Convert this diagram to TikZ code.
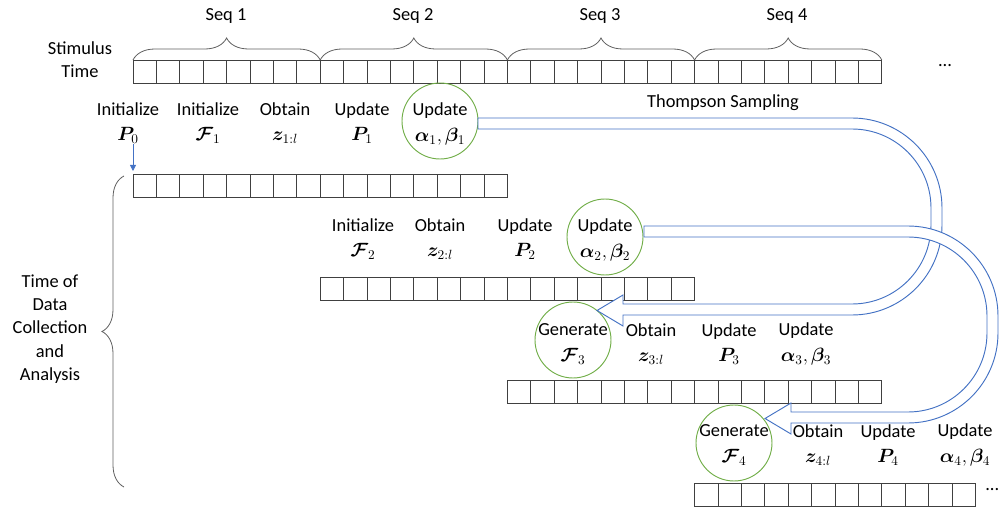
\documentclass[tikz,border=0pt]{standalone}
\usepackage{fontspec}
\setmainfont{Carlito}
\usepackage{bm}
\usetikzlibrary{decorations.pathreplacing,arrows.meta}

\definecolor{flowblue}{HTML}{4472C4}
\definecolor{stepgreen}{HTML}{70AD47}
\definecolor{cellgray}{HTML}{404040}
\definecolor{bracegray}{HTML}{606060}

\tikzset{
  lbl/.style={align=center, inner sep=0pt, font=\fontsize{13.8}{19}\selectfont},
  sidelbl/.style={align=center, inner sep=0pt, font=\fontsize{13.8}{17.5}\selectfont},
  stepcircle/.style={circle, draw=stepgreen, line width=0.7pt, minimum size=57pt,
    inner sep=0pt},
  cellbox/.style={draw=cellgray, line width=0.75pt, minimum width=17.55pt,
    minimum height=17.25pt, inner sep=0pt, outer sep=0pt, anchor=north west},
  seqbrace/.style={decorate, decoration={brace, amplitude=16.5pt},
    draw=bracegray, line width=0.6pt},
  hollowarrow/.style={draw=flowblue, line width=0.7pt, fill=white},
  smallarrow/.style={draw=flowblue, line width=0.6pt,
    -{Triangle[length=4.5pt,width=4.5pt]}, shorten >=3pt},
}

% a row of #4 time cells named #1-1 ... #1-#4, top left corner at (#2,#3)
\newcommand\cellrow[4]{%
  \foreach \k in {1,...,#4} {
    \node[cellbox] (#1-\k) at ({#2+(\k-1)*23.4}, #3) {};
  }%
}

\begin{document}
\begin{tikzpicture}[x=0.75pt,y=-0.75pt]
\useasboundingbox (0,0) rectangle (1001,510);

% stimulus time line and the four collection windows
\cellrow{s}{133}{61}{32}
\cellrow{ra}{133}{175}{16}
\cellrow{rb}{320.2}{277}{16}
\cellrow{rc}{507.4}{380}{16}
\cellrow{rd}{694.6}{483}{12}

% sequence braces
\draw[seqbrace] ([yshift=0.75pt]s-1.north west)  -- ([yshift=0.75pt]s-8.north east);
\draw[seqbrace] ([yshift=0.75pt]s-9.north west)  -- ([yshift=0.75pt]s-16.north east);
\draw[seqbrace] ([yshift=0.75pt]s-17.north west) -- ([yshift=0.75pt]s-24.north east);
\draw[seqbrace] ([yshift=0.75pt]s-25.north west) -- ([yshift=0.75pt]s-32.north east);
\node[lbl] (seq1) at (226,16) {Seq 1};
\node[lbl] (seq2) at (413,16) {Seq 2};
\node[lbl] (seq3) at (600,16) {Seq 3};
\node[lbl] (seq4) at (787,16) {Seq 4};

\node[sidelbl] (stim) at (80,60) {Stimulus\\Time};
\node[lbl] (more1) at (945,66) {...};
\node[lbl, anchor=west] (more2) at (985,490) {...};

% data collection brace
\coordinate (bbot) at (124,487);
\coordinate (btop) at (124,176);
\draw[seqbrace] (bbot) -- (btop);
\node[sidelbl] (dcol) at (50,329) {Time of\\Data\\Collection\\and\\Analysis};

% first window
\node[lbl] (init0) at (128,123) {Initialize\\$\bm{P}_0$};
\node[lbl] (initF1) at (208,123) {Initialize\\$\bm{\mathcal{F}}_1$};
\node[lbl] (obt1) at (285,123) {Obtain\\$\bm{z}_{1:l}$};
\node[lbl] (updP1) at (362,123) {Update\\$\bm{P}_1$};
\node[stepcircle] (ab1) at (440,121) {};
\node[lbl] (ab1t) at (440,124) {Update\\$\bm{\alpha}_1,\bm{\beta}_1$};
\node[lbl] (ts) at (723,103) {Thompson Sampling};
\draw[smallarrow] (init0.south -| ra-1.north west) -- (ra-1.north west);

% second window
\node[lbl] (initF2) at (363,239) {Initialize\\$\bm{\mathcal{F}}_2$};
\node[lbl] (obt2) at (440,239) {Obtain\\$\bm{z}_{2:l}$};
\node[lbl] (updP2) at (525,239) {Update\\$\bm{P}_2$};
\node[stepcircle] (ab2) at (605,237) {};
\node[lbl] (ab2t) at (605,240) {Update\\$\bm{\alpha}_2,\bm{\beta}_2$};

% third window
\node[stepcircle] (gen3) at (573,340) {};
\node[lbl] (gen3t) at (573,344) {Generate\\$\bm{\mathcal{F}}_3$};
\node[lbl] (obt3) at (651,344) {Obtain\\$\bm{z}_{3:l}$};
\node[lbl] (updP3) at (729,344) {Update\\$\bm{P}_3$};
\node[lbl] (upd3) at (806,344) {Update\\$\bm{\alpha}_3,\bm{\beta}_3$};

% fourth window
\node[stepcircle] (gen4) at (734,443) {};
\node[lbl] (gen4t) at (734,445) {Generate\\$\bm{\mathcal{F}}_4$};
\node[lbl] (obt4) at (818,445) {Obtain\\$\bm{z}_{4:l}$};
\node[lbl] (updP4) at (888,445) {Update\\$\bm{P}_4$};
\node[lbl] (upd4) at (965,445) {Update\\$\bm{\alpha}_4,\bm{\beta}_4$};

% Thompson sampling feedback: hollow block arrows
\draw[hollowarrow] (478,118) -- (852,118)
  .. controls (901.7,118) and (942,158.3) .. (942,208) -- (942,225)
  .. controls (942,274.7) and (901.7,315) .. (852,315) -- (623,315)
  -- (623,326) -- (597,310.5) -- (623,295) -- (623,304) -- (852,304)
  .. controls (895.6,304) and (931,268.6) .. (931,225) -- (931,208)
  .. controls (931,164.4) and (895.6,129) .. (852,129) -- (478,129) -- cycle;
\draw[hollowarrow] (644,226) -- (908,226)
  .. controls (957.7,226) and (998,266.3) .. (998,316) -- (998,333)
  .. controls (998,382.7) and (957.7,423) .. (908,423) -- (791,423)
  -- (791,434) -- (765,418.5) -- (791,403) -- (791,412) -- (908,412)
  .. controls (951.6,412) and (987,376.6) .. (987,333) -- (987,316)
  .. controls (987,272.4) and (951.6,237) .. (908,237) -- (644,237) -- cycle;
\end{tikzpicture}
\end{document}
